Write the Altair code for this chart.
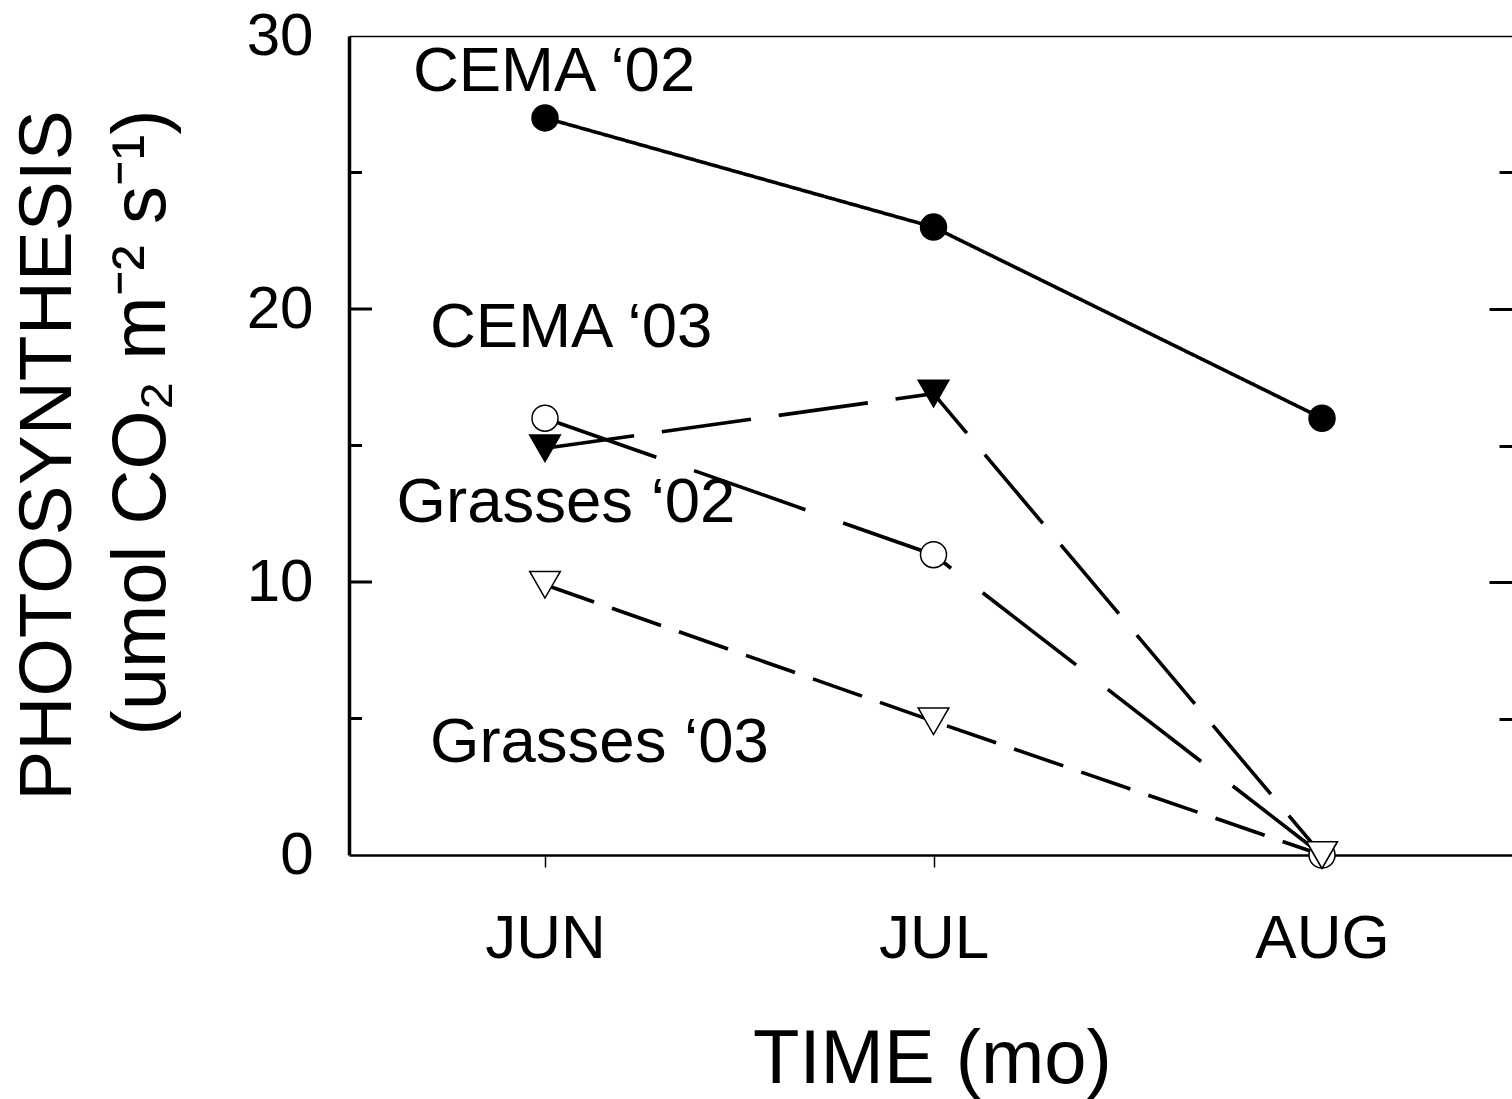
import json
import altair as alt
import pandas as pd

FONT = "Liberation Sans"

# ---------------- data ----------------
MONTHS = [6, 7, 8]
MONTH_NAMES = ["JUN", "JUL", "AUG"]

SERIES = ["CEMA ‘02", "CEMA ‘03", "Grasses ‘02", "Grasses ‘03"]
CEMA_02 = [27.0, 23.0, 16.0]
CEMA_03 = [14.9, 16.9, 0.0]
GRASSES_02 = [16.0, 11.0, 0.0]
GRASSES_03 = [9.9, 4.9, 0.0]

# annotation anchors (data units: month, photosynthesis)
LABEL_X = [5.66, 5.704, 5.618, 5.704]
LABEL_Y = [28.0, 18.6, 12.2, 3.4]

Y_LABEL_TICKS = [0, 10, 20, 30]
Y_MAJOR_TICKS = [10, 20]
Y_MINOR_TICKS = [5, 15, 25]

# ---------------- tables ----------------
values = [CEMA_02, CEMA_03, GRASSES_02, GRASSES_03]
rows = []
for s, vals in zip(SERIES, values):
    for m, v in zip(MONTHS, vals):
        rows.append({"series": s, "month": m, "value": v})
df = pd.DataFrame(rows)
labels_df = pd.DataFrame({"text": SERIES, "lx": LABEL_X, "ly": LABEL_Y})
major_df = pd.DataFrame({"v": Y_MAJOR_TICKS})
minor_df = pd.DataFrame({"v": Y_MINOR_TICKS})

# ---------------- styles ----------------
W, H = 1163, 819
MAJOR_LEN, MINOR_LEN = 23, 13
DASHES = [[1, 0], [90, 28], [118, 40], [52, 19]]
FILLS = ["black", "black", "white", "white"]
XSCALE = alt.Scale(domain=[5.4955, 8.489], nice=False, zero=False)
YSCALE = alt.Scale(domain=[0, 30], nice=False, zero=True)
label_expr = json.dumps(MONTH_NAMES) + "[datum.value - 6]"

x_bottom = alt.Axis(
    orient="bottom", values=MONTHS, labelExpr=label_expr,
    domain=True, domainColor="black", domainWidth=2.5,
    ticks=True, tickSize=12, tickWidth=1.5, tickColor="black",
    labelFont=FONT, labelFontSize=62, labelColor="black", labelPadding=41,
    grid=False, title="TIME (mo)", titleFont=FONT, titleFontSize=76,
    titleFontWeight="normal", titleColor="black", titleBaseline="alphabetic",
    titleAlign="center", titleX=583, titleY=227,
)
x_top = alt.Axis(orient="top", labels=False, ticks=False, domain=True,
                 domainColor="black", domainWidth=1.5, grid=False, title=None)
y_left_main = alt.Axis(
    orient="left", values=Y_LABEL_TICKS, ticks=False,
    domain=True, domainColor="black", domainWidth=3.5,
    labelFont=FONT, labelFontSize=60, labelColor="black", labelPadding=36,
    grid=False, title="PHOTOSYNTHESIS", titleFont=FONT, titleFontSize=75,
    titleFontWeight="normal", titleColor="black", titleAngle=270,
    titleBaseline="alphabetic", titleAlign="center", titleX=-279, titleY=419,
)
y_left_title2 = alt.Axis(
    orient="left", labels=False, ticks=False, domain=False, grid=False,
    title="(umol CO₂ m⁻² s⁻¹)", titleFont=FONT, titleFontSize=76,
    titleFontWeight="normal", titleColor="black", titleAngle=270,
    titleBaseline="alphabetic", titleAlign="center", titleX=-185, titleY=386,
)


def right_inner_ticks(vals, size):
    return alt.Axis(orient="right", offset=-size, values=vals, labels=False,
                    domain=False, ticks=True, tickSize=size, tickWidth=3,
                    tickColor="black", grid=False, title=None)


def xe(axis, field="month"):
    return alt.X(f"{field}:Q", scale=XSCALE, axis=axis)


def ye(axis, field="value"):
    return alt.Y(f"{field}:Q", scale=YSCALE, axis=axis)


base = alt.Chart(df)
lines = base.mark_line(strokeWidth=3.6, color="black").encode(
    x=xe(x_bottom), y=ye(y_left_main), detail="series:N",
    strokeDash=alt.StrokeDash("series:N", scale=alt.Scale(domain=SERIES, range=DASHES), legend=None),
)
fill_enc = alt.Fill("series:N", scale=alt.Scale(domain=SERIES, range=FILLS), legend=None)
circles = base.transform_filter(
    alt.FieldOneOfPredicate(field="series", oneOf=[SERIES[0], SERIES[2]])
).mark_point(shape="circle", size=676, filled=True, stroke="black", strokeWidth=1.5,
             opacity=1).encode(x=xe(x_top), y=ye(None), fill=fill_enc)
triangles = base.transform_filter(
    alt.FieldOneOfPredicate(field="series", oneOf=[SERIES[1], SERIES[3]])
).mark_point(shape="triangle-down", size=940, filled=True, stroke="black",
             strokeWidth=1.5, opacity=1).encode(
    x=xe(None), y=ye(right_inner_ticks(Y_MAJOR_TICKS, MAJOR_LEN)), fill=fill_enc)
texts = alt.Chart(labels_df).mark_text(
    align="left", baseline="alphabetic", font=FONT, fontSize=63.5, color="black"
).encode(x=xe(None, "lx"), y=ye(y_left_title2, "ly"), text="text:N")
carrier = base.mark_point(opacity=0).encode(
    x=xe(None), y=ye(right_inner_ticks(Y_MINOR_TICKS, MINOR_LEN)))


def left_ticks(data, length):
    # inward ticks on the left frame edge; tick values placed by the y scale
    return alt.Chart(data).mark_rule(color="black", strokeWidth=3).encode(
        y=alt.Y("v:Q", scale=YSCALE, axis=None),
        x=alt.value(0), x2=alt.value(length),
    )


chart = (
    alt.layer(lines, circles, triangles, texts, carrier,
              left_ticks(major_df, MAJOR_LEN), left_ticks(minor_df, MINOR_LEN))
    .resolve_axis(x="independent", y="independent")
    .properties(width=W, height=H, autosize=alt.AutoSizeParams(type="none"),
                padding={"left": 349, "top": 36, "right": 0, "bottom": 244},
                background="white")
    .configure(font=FONT)
    .configure_view(stroke=None)
)
chart.save("out.html", embed_options={"renderer": "svg", "actions": False})
